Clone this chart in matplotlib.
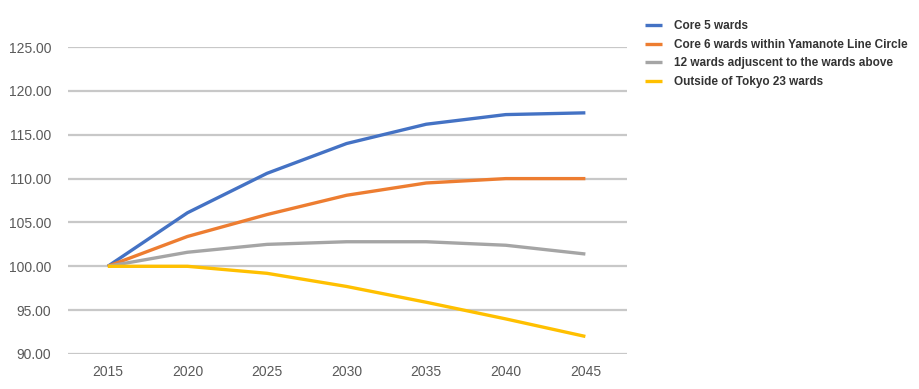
import matplotlib
matplotlib.use("Agg")
import matplotlib.pyplot as plt

# ============ DATA ============
years = [2015, 2020, 2025, 2030, 2035, 2040, 2045]
core5 = [100.0, 106.1, 110.6, 114.0, 116.2, 117.3, 117.5]
core6 = [100.0, 103.4, 105.9, 108.1, 109.5, 110.0, 110.0]
adj12 = [100.0, 101.6, 102.5, 102.8, 102.8, 102.4, 101.4]
outside = [100.0, 100.0, 99.2, 97.7, 95.9, 94.0, 92.0]

series_names = ['Core 5 wards',
                'Core 6 wards within Yamanote Line Circle',
                '12 wards adjuscent to the wards above',
                'Outside of Tokyo 23 wards']
series_vals = [core5, core6, adj12, outside]
colors = ['#4472C4', '#ED7D31', '#A5A5A5', '#FFC000']

yticks = [90, 95, 100, 105, 110, 115, 120, 125]

# ============ PLOT ============
plt.rcParams['font.family'] = ['Liberation Sans', 'DejaVu Sans']
fig = plt.figure(figsize=(9.19, 3.89), dpi=100)
ax = fig.add_axes([0.074, 0.09, 0.608, 0.789])

for vals, c, name in zip(series_vals, colors, series_names):
    ax.plot(years, vals, color=c, linewidth=2.4, label=name,
            solid_capstyle='butt', zorder=3)

ax.set_xlim(2012.5, 2047.6)
ax.set_ylim(90, 125)
ax.set_xticks(years)
ax.set_yticks(yticks)
ax.set_yticklabels([f'{v:.2f}' for v in yticks])
ax.grid(True, axis='y', color='#C8C8C8', linewidth=1.6, zorder=0)
for s in ax.spines.values():
    s.set_visible(False)
ax.tick_params(axis='both', length=0, labelsize=10, colors='#595959', pad=8)
ax.tick_params(axis='y', pad=12)

fig.legend(loc='upper left', bbox_to_anchor=(0.69, 0.975), frameon=False,
           handlelength=1.5, handletextpad=1.0, labelspacing=0.55,
           prop={'weight': 'bold', 'size': 8.5}, labelcolor='#333333')

fig.savefig('out.png', dpi=100)
